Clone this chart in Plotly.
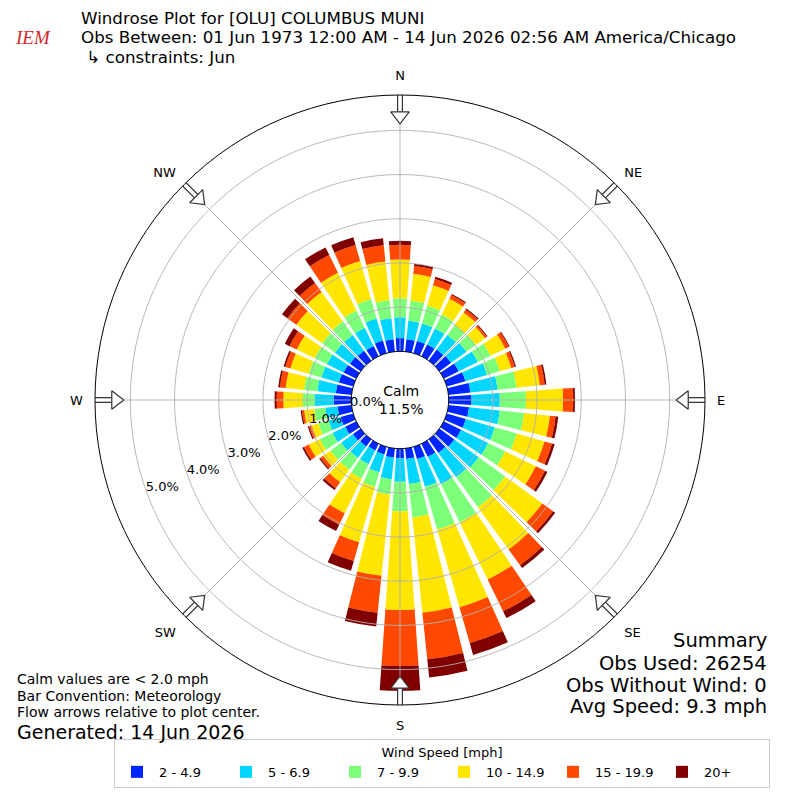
import numpy as np
import plotly.graph_objects as go

# wind direction (deg, 10 deg bins) and frequency (%) per speed bin
directions = list(range(0, 360, 10))
speed_bins = ["2 - 4.9", "5 - 6.9", "7 - 9.9", "10 - 14.9", "15 - 19.9", "20+"]
bin_colors = ["#0026ff", "#00d5ff", "#7cff79", "#ffe600", "#ff4800", "#800000"]

spd_2_5 = [0.30, 0.28, 0.29, 0.30, 0.31, 0.33, 0.38, 0.44, 0.50, 0.52, 0.47, 0.45,
           0.44, 0.42, 0.38, 0.33, 0.29, 0.24, 0.22, 0.21, 0.18, 0.17, 0.20, 0.22,
           0.28, 0.30, 0.32, 0.40, 0.36, 0.34, 0.32, 0.30, 0.28, 0.26, 0.30, 0.28]
spd_5_7 = [0.47, 0.42, 0.41, 0.40, 0.41, 0.43, 0.48, 0.51, 0.62, 0.64, 0.70, 0.68,
           0.68, 0.68, 0.68, 0.69, 0.65, 0.57, 0.53, 0.49, 0.42, 0.35, 0.32, 0.33,
           0.32, 0.28, 0.28, 0.43, 0.42, 0.41, 0.42, 0.42, 0.44, 0.46, 0.52, 0.48]
spd_7_10 = [0.43, 0.46, 0.42, 0.35, 0.28, 0.26, 0.32, 0.30, 0.43, 0.59, 0.55, 0.52,
            0.43, 0.74, 0.84, 0.96, 1.01, 0.76, 0.67, 0.35, 0.35, 0.36, 0.33, 0.30,
            0.32, 0.24, 0.25, 0.27, 0.30, 0.30, 0.31, 0.36, 0.38, 0.43, 0.45, 0.41]
spd_10_15 = [0.88, 0.61, 0.48, 0.40, 0.35, 0.26, 0.37, 0.27, 0.53, 0.84, 0.59, 0.65,
             0.77, 1.04, 1.18, 1.44, 1.83, 2.17, 2.23, 1.85, 1.30, 0.87, 0.35, 0.20,
             0.28, 0.16, 0.23, 0.44, 0.42, 0.43, 0.45, 0.72, 0.82, 0.95, 0.90, 0.88]
spd_15_20 = [0.33, 0.18, 0.15, 0.09, 0.08, 0.05, 0.09, 0.08, 0.11, 0.23, 0.13, 0.18,
             0.23, 0.30, 0.44, 0.80, 0.84, 1.06, 1.27, 0.84, 0.44, 0.29, 0.17, 0.08,
             0.12, 0.06, 0.05, 0.15, 0.13, 0.12, 0.18, 0.25, 0.25, 0.45, 0.38, 0.37]
spd_20up = [0.09, 0.05, 0.05, 0.03, 0.03, 0.02, 0.02, 0.03, 0.04, 0.04, 0.06, 0.06,
            0.06, 0.06, 0.08, 0.17, 0.28, 0.41, 0.56, 0.31, 0.23, 0.16, 0.05, 0.03,
            0.04, 0.03, 0.03, 0.05, 0.04, 0.04, 0.12, 0.15, 0.18, 0.19, 0.18, 0.16]
series = [spd_2_5, spd_5_7, spd_7_10, spd_10_15, spd_15_20, spd_20up]

calm_pct = 11.5
ring_vals = [0, 1, 2, 3, 4, 5]
ring_labels = ["0.0%", "1.0%", "2.0%", "3.0%", "4.0%", "5.0%"]
compass_deg = [0, 45, 90, 135, 180, 225, 270, 315]
compass_txt = ["N", "NE", "E", "SE", "S", "SW", "W", "NW"]

R_MIN, R_MAX = -1.1, 5.8
FONT = "DejaVu Sans"
OFF = 8  # page body margin in the browser
LBL_ANGLE = 202.5

fig = go.Figure()

for name, col, vals in zip(speed_bins, bin_colors, series):
    fig.add_trace(go.Barpolar(r=vals, theta=directions, width=8, name=name,
                              marker=dict(color=col, line=dict(width=0))))

# grid drawn on top of the bars, like the original
ring_theta = np.arange(0, 361, 2)
gr, gt = [], []
for v in ring_vals[1:]:
    gr += [v] * len(ring_theta) + [None]
    gt += list(ring_theta) + [None]
for d in compass_deg:
    gr += [0, R_MAX, None]
    gt += [d, d, None]
fig.add_trace(go.Scatterpolar(r=gr, theta=gt, mode="lines", showlegend=False,
                              line=dict(color="#b0b0b0", width=0.9), hoverinfo="skip"))
# calm circle edge
fig.add_trace(go.Scatterpolar(r=[0] * len(ring_theta), theta=ring_theta, mode="lines",
                              showlegend=False, line=dict(color="black", width=1),
                              hoverinfo="skip"))

# flow arrows at the rim
sr, st = [], []
for d in compass_deg:
    sr += [5.42, 5.88, None]
    st += [d, d, None]
fig.add_trace(go.Scatterpolar(r=sr, theta=st, mode="lines", showlegend=False,
                              cliponaxis=False, line=dict(color="#333333", width=6),
                              hoverinfo="skip"))
sr2 = [v if v is None else min(v, 5.85) for v in sr]
fig.add_trace(go.Scatterpolar(r=sr2, theta=st, mode="lines", showlegend=False,
                              cliponaxis=False, line=dict(color="white", width=3.6),
                              hoverinfo="skip"))
fig.add_trace(go.Scatterpolar(r=[5.33] * len(compass_deg), theta=compass_deg,
                              mode="markers", showlegend=False, cliponaxis=False,
                              marker=dict(symbol="triangle-down", size=16, color="white",
                                          angle=compass_deg,
                                          line=dict(color="#333333", width=1.2)),
                              hoverinfo="skip"))

cx, cy, rad = (400 - OFF) / 800, 1 - (400 - OFF) / 800, 305 / 800

fig.update_layout(
    width=800, height=800,
    template="none",
    paper_bgcolor="white",
    margin=dict(l=0, r=0, t=0, b=0),
    font=dict(family=FONT, size=13, color="black"),
    polar=dict(
        domain=dict(x=[cx - rad, cx + rad], y=[cy - rad, cy + rad]),
        bgcolor="white",
        barmode="stack",
        angularaxis=dict(rotation=90, direction="clockwise", tickmode="array",
                         tickvals=compass_deg, ticktext=compass_txt, showgrid=False,
                         showline=True, linecolor="black", linewidth=1,
                         ticks="outside", ticklen=9, tickcolor="rgba(0,0,0,0)",
                         tickfont=dict(size=13, family=FONT)),
        radialaxis=dict(range=[R_MIN, R_MAX], tickmode="array",
                        tickvals=[v - 0.75 for v in ring_vals], ticktext=ring_labels,
                        angle=LBL_ANGLE, tickangle=LBL_ANGLE - 360, showgrid=False,
                        showline=False, ticks="", tickfont=dict(size=13, family=FONT)),
    ),
    legend=dict(orientation="h", x=(442 - OFF) / 800, xanchor="center",
                y=1 - (788 - OFF) / 800, yanchor="bottom",
                title=dict(text="Wind Speed [mph]", side="top center",
                           font=dict(size=13, family=FONT)),
                bordercolor="#cccccc", borderwidth=1, font=dict(size=13, family=FONT),
                itemwidth=34, entrywidth=60, traceorder="normal"),
    showlegend=True,
)


def note(txt, x, y, size, xanchor="left", family=FONT, color="black"):
    fig.add_annotation(text=txt, x=(x - OFF) / 800, y=1 - (y - OFF) / 800,
                       xref="paper", yref="paper", xanchor=xanchor, yanchor="middle",
                       showarrow=False, borderpad=0,
                       font=dict(size=size, family=family, color=color))


note("Windrose Plot for [OLU] COLUMBUS MUNI", 80, 18, 16.7)
note("Obs Between: 01 Jun 1973 12:00 AM - 14 Jun 2026 02:56 AM America/Chicago", 80, 37.5, 16.7)
note(" \u21b3 constraints: Jun", 80, 57, 16.7)
note("<i>IEM</i>", 14, 38, 19, family="Liberation Serif", color="#d42a2a")

note("Summary", 768, 640, 19.5, xanchor="right")
note("Obs Used: 26254", 768, 663, 19.5, xanchor="right")
note("Obs Without Wind: 0", 768, 685, 19.5, xanchor="right")
note("Avg Speed: 9.3 mph", 768, 706, 19.5, xanchor="right")

note("Calm values are < 2.0 mph", 16, 679, 14)
note("Bar Convention: Meteorology", 16, 696, 14)
note("Flow arrows relative to plot center.", 16, 712, 14)
note("Generated: 14 Jun 2026", 16, 731.5, 19)

note("Calm<br>%.1f%%" % calm_pct, 401, 400, 14, xanchor="center")

fig.write_html("out.html")
